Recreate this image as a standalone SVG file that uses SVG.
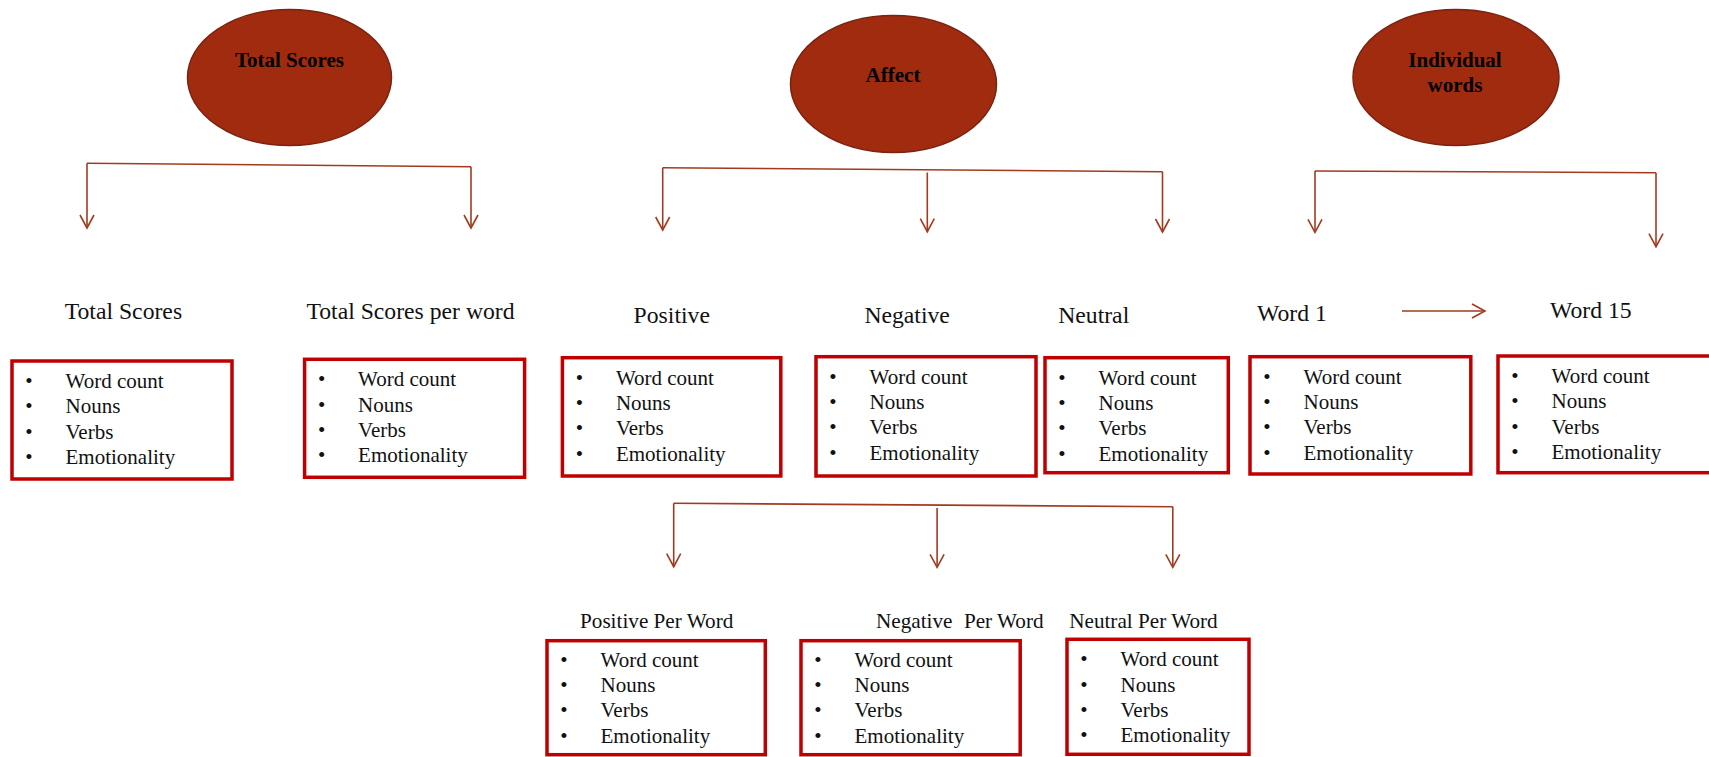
<svg xmlns="http://www.w3.org/2000/svg" width="1709" height="757" viewBox="0 0 1709 757">
<style>
.bg{fill:#ffffff}
.ell{fill:#A12B0F;stroke:#7B2210;stroke-width:1.5}
.et{font-family:"Liberation Serif","Times New Roman",serif;font-size:21px;font-weight:bold;fill:#000;text-anchor:middle}
.lbl{font-family:"Liberation Serif","Times New Roman",serif;font-size:23.7px;fill:#111}
.lbl2{font-family:"Liberation Serif","Times New Roman",serif;font-size:21.2px;fill:#111}
.box{fill:#fff;stroke:#C00000;stroke-width:3.5}
.it{font-family:"Liberation Serif","Times New Roman",serif;font-size:21px;fill:#111}
.bu{font-family:"Liberation Serif","Times New Roman",serif;font-size:21px;fill:#111;text-anchor:middle}
.con{fill:none;stroke:#A33A1F;stroke-width:1.6}
</style>
<defs>
<marker id="ah" viewBox="-15 -9 17 18" refX="0" refY="0" markerWidth="17" markerHeight="18" markerUnits="userSpaceOnUse" orient="auto">
<path d="M-13,-7 L0,0 L-13,7" fill="none" stroke="#A33A1F" stroke-width="1.6"/>
</marker>
<g id="list">
<text class="bu" x="17" y="27">•</text><text class="it" x="53.5" y="27">Word count</text>
<text class="bu" x="17" y="52.3">•</text><text class="it" x="53.5" y="52.3">Nouns</text>
<text class="bu" x="17" y="77.6">•</text><text class="it" x="53.5" y="77.6">Verbs</text>
<text class="bu" x="17" y="103">•</text><text class="it" x="53.5" y="103">Emotionality</text>
</g>
</defs>
<rect class="bg" x="0" y="0" width="1709" height="757"/>

<g id="connectors">
<path class="con" d="M87,163.3 L471,166.7"/>
<path class="con" d="M87,163.3 L87,228" marker-end="url(#ah)"/>
<path class="con" d="M471,166.7 L471,228" marker-end="url(#ah)"/>
<path class="con" d="M662.7,167.7 L1162.5,171.7"/>
<path class="con" d="M662.7,167.7 L662.7,230" marker-end="url(#ah)"/>
<path class="con" d="M927.3,172.5 L927.3,231.7" marker-end="url(#ah)"/>
<path class="con" d="M1162.5,171.7 L1162.5,232" marker-end="url(#ah)"/>
<path class="con" d="M1315,171 L1656,172.7"/>
<path class="con" d="M1315,171 L1315,232.3" marker-end="url(#ah)"/>
<path class="con" d="M1656,172.7 L1656,246.7" marker-end="url(#ah)"/>
<path class="con" d="M673.7,503.3 L1172.8,506.7"/>
<path class="con" d="M673.7,503.3 L673.7,566.7" marker-end="url(#ah)"/>
<path class="con" d="M937.1,508 L937.1,567.3" marker-end="url(#ah)"/>
<path class="con" d="M1172.8,506.7 L1172.8,567.3" marker-end="url(#ah)"/>
<path class="con" d="M1402,311 L1485,311" marker-end="url(#ah)"/>
</g>

<g id="ellipse-total-scores">
<ellipse class="ell" cx="289.5" cy="77.5" rx="102" ry="68"/>
<text class="et" x="289.5" y="67">Total Scores</text>
</g>
<g id="ellipse-affect">
<ellipse class="ell" cx="893.5" cy="84" rx="103" ry="68.5"/>
<text class="et" x="893" y="82">Affect</text>
</g>
<g id="ellipse-individual-words">
<ellipse class="ell" cx="1456" cy="77.5" rx="103" ry="68"/>
<text class="et" x="1455" y="67">Individual</text>
<text class="et" x="1455" y="92">words</text>
</g>

<g id="node-total-scores">
<text class="lbl" x="64.7" y="319.3">Total Scores</text>
<g transform="translate(12,361)"><rect class="box" x="0" y="0" width="220" height="118"/><use href="#list"/></g>
</g>
<g id="node-total-scores-per-word">
<text class="lbl" x="306.4" y="319.3">Total Scores per word</text>
<g transform="translate(304.6,359.3)"><rect class="box" x="0" y="0" width="220" height="118"/><use href="#list"/></g>
</g>
<g id="node-positive">
<text class="lbl" x="633.6" y="322.7">Positive</text>
<g transform="translate(562.4,357.7)"><rect class="box" x="0" y="0" width="218.4" height="118.3"/><use href="#list"/></g>
</g>
<g id="node-negative">
<text class="lbl" x="864.4" y="322.7">Negative</text>
<g transform="translate(816,356.7)"><rect class="box" x="0" y="0" width="220" height="119.3"/><use href="#list"/></g>
</g>
<g id="node-neutral">
<text class="lbl" x="1058.2" y="323.3">Neutral</text>
<g transform="translate(1045,357.7)"><rect class="box" x="0" y="0" width="183.3" height="115"/><use href="#list"/></g>
</g>
<g id="node-word-1">
<text class="lbl" x="1257" y="320.7">Word 1</text>
<g transform="translate(1250,356.7)"><rect class="box" x="0" y="0" width="220.8" height="117.3"/><use href="#list"/></g>
</g>
<g id="node-word-15">
<text class="lbl" x="1550" y="318.3">Word 15</text>
<g transform="translate(1498,356)"><rect class="box" x="0" y="0" width="216" height="116.7"/><use href="#list"/></g>
</g>
<g id="node-positive-per-word">
<text class="lbl2" x="580" y="628.3">Positive Per Word</text>
<g transform="translate(547,640.7)"><rect class="box" x="0" y="0" width="218.3" height="114"/><use href="#list" transform="translate(0,-1)"/></g>
</g>
<g id="node-negative-per-word">
<text class="lbl2" x="876" y="628">Negative</text>
<text class="lbl2" x="963.9" y="628">Per Word</text>
<g transform="translate(801,640.7)"><rect class="box" x="0" y="0" width="219.2" height="114"/><use href="#list" transform="translate(0,-1)"/></g>
</g>
<g id="node-neutral-per-word">
<text class="lbl2" x="1069.2" y="628">Neutral Per Word</text>
<g transform="translate(1067,639.3)"><rect class="box" x="0" y="0" width="182" height="115"/><use href="#list"/></g>
</g>
</svg>
